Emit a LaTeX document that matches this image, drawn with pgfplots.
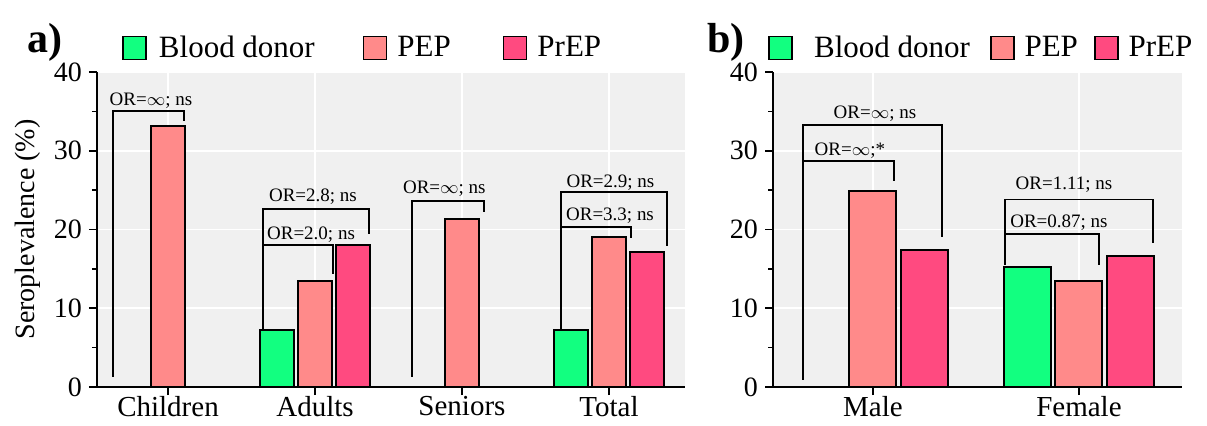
\documentclass[border=0pt]{standalone}
\usepackage{fontspec}
\setmainfont{Liberation Serif}
\usepackage{pgfplots}
\pgfplotsset{compat=1.18}

\definecolor{donor}{RGB}{18,255,128}
\definecolor{pep}{RGB}{255,138,138}
\definecolor{prep}{RGB}{255,74,128}
\definecolor{bg}{RGB}{240,240,240}

\tikzset{
  lab/.style={font=\fontsize{9.5}{9.5}\selectfont, inner sep=0pt},
  brk/.style={line width=0.9pt, black},
}
\pgfplotsset{
  panel/.style={
    scale only axis, height=157.5pt,
    ymin=0, ymax=40, ytick={0,10,20,30,40}, minor ytick={5,15,25,35},
    axis x line*=bottom, axis y line*=left,
    axis line style={line width=1pt, -},
    axis background/.style={fill=bg},
    grid=major, major grid style={white, line width=0.9pt},
    tick style={black, line width=0.8pt},
    major tick length=4pt, minor tick length=2.5pt, tick align=outside,
    yticklabel style={font=\fontsize{14}{14}\selectfont},
    xticklabel style={font=\fontsize{14.5}{14.5}\selectfont, yshift=3pt},
    /pgf/number format/assume math mode=true,
    clip=false,
    legend columns=-1,
    legend image code/.code={\draw[#1, draw=black, line width=0.8pt] (0pt,-5.75pt) rectangle (11.5pt,5.75pt);},
    legend style={draw=none, fill=none, inner sep=0pt, anchor=west,
      font=\fontsize{15.5}{15.5}\selectfont},
  },
  bars/.style={ybar, draw=black, line width=1pt},
}

\begin{document}
\begin{tikzpicture}
% ---- panel a ----
\begin{axis}[panel, width=294pt,
  xmin=-0.483, xmax=3.517, xtick={0,1,2,3},
  xticklabels={Children,Adults,Seniors,Total},
  legend style={at={(axis description cs:0.0425,1.076)},
    /tikz/column 1/.style={column sep=4pt},
    /tikz/column 2/.style={column sep=22pt},
    /tikz/column 3/.style={column sep=3pt},
    /tikz/column 4/.style={column sep=24pt},
    /tikz/column 5/.style={column sep=3pt}},
]
\addplot[bars, bar width=0.231, bar shift=-0.2585, fill=donor] coordinates {(1,7.3) (3,7.3)};
\addplot[bars, bar width=0.231, bar shift=0, fill=pep] coordinates {(0,33.2) (1,13.5) (2,21.3) (3,19.0)};
\addplot[bars, bar width=0.231, bar shift=0.2585, fill=prep] coordinates {(1,18.0) (3,17.1)};
\legend{Blood donor, PEP, PrEP}

% brackets
\draw[brk] (axis cs:-0.374,1.3) |- (axis cs:0.109,35.0) -- (axis cs:0.109,33.8);
\node[lab] at (axis cs:-0.116,36.4) {OR=$\infty$; ns};

\draw[brk] (axis cs:0.646,7.3) |- (axis cs:1.12,18.0) -- (axis cs:1.12,14.3);
\draw[brk] (axis cs:0.646,18.0) |- (axis cs:1.367,22.6) -- (axis cs:1.367,19.4);
\node[lab] at (axis cs:0.973,19.4) {OR=2.0; ns};
\node[lab] at (axis cs:0.986,24.2) {OR=2.8; ns};

\draw[brk] (axis cs:1.66,1.3) |- (axis cs:2.15,23.6) -- (axis cs:2.15,22.2);
\node[lab] at (axis cs:1.88,25.2) {OR=$\infty$; ns};

\draw[brk] (axis cs:2.673,7.3) |- (axis cs:3.15,20.3) -- (axis cs:3.15,18.9);
\draw[brk] (axis cs:2.673,20.3) |- (axis cs:3.395,24.8) -- (axis cs:3.395,17.9);
\node[lab] at (axis cs:3.007,21.8) {OR=3.3; ns};
\node[lab] at (axis cs:3.01,26.0) {OR=2.9; ns};
\end{axis}

\node[rotate=90, font=\fontsize{14}{14}\selectfont] at (-34.5pt,78.75pt) {Seroplevalence (\%)};
\node[font=\fontsize{21}{21}\bfseries] at (-26pt,172.5pt) {a)};

% ---- panel b ----
\begin{axis}[panel, at={(338pt,0pt)}, width=204.5pt,
  xmin=-0.485, xmax=1.5, xtick={0,1},
  xticklabels={Male,Female},
  legend style={at={(axis description cs:-0.012,1.076)},
    /tikz/column 1/.style={column sep=8.5pt},
    /tikz/column 2/.style={column sep=8pt},
    /tikz/column 3/.style={column sep=3pt},
    /tikz/column 4/.style={column sep=6pt},
    /tikz/column 5/.style={column sep=3pt}},
]
\addplot[bars, bar width=0.228, bar shift=-0.252, fill=donor] coordinates {(1,15.2)};
\addplot[bars, bar width=0.228, bar shift=0, fill=pep] coordinates {(0,24.9) (1,13.5)};
\addplot[bars, bar width=0.228, bar shift=0.252, fill=prep] coordinates {(0,17.4) (1,16.6)};
\legend{Blood donor, PEP, PrEP}

\draw[brk] (axis cs:-0.34,0.9) |- (axis cs:0.335,33.3) -- (axis cs:0.335,19.0);
\draw[brk] (axis cs:-0.34,28.7) -- (axis cs:0.102,28.7) -- (axis cs:0.102,26.1);
\node[lab] at (axis cs:0.01,34.7) {OR=$\infty$; ns};
\node[lab] at (axis cs:-0.112,30.0) {OR=$\infty$;*};

\draw[brk] (axis cs:0.641,15.5) |- (axis cs:1.359,23.8) -- (axis cs:1.359,18.3);
\draw[brk] (axis cs:0.641,19.4) -- (axis cs:1.097,19.4) -- (axis cs:1.097,15.5);
\node[lab] at (axis cs:0.903,20.9) {OR=0.87; ns};
\node[lab] at (axis cs:0.927,25.7) {OR=1.11; ns};
\end{axis}
\node[font=\fontsize{21}{21}\bfseries] at (314.5pt,172.5pt) {b)};

\pgfresetboundingbox
\path (-48.5pt,-19pt) rectangle (555pt,193.5pt);
\end{tikzpicture}
\end{document}
